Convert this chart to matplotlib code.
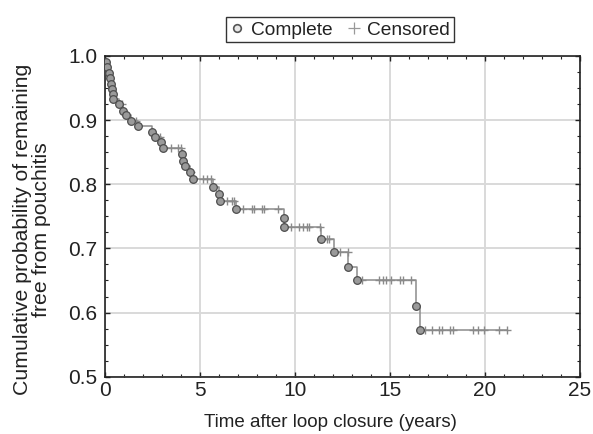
import numpy as np
import matplotlib
matplotlib.use("Agg")
import matplotlib.pyplot as plt
from matplotlib.lines import Line2D

plt.rcParams['font.family'] = ['Liberation Sans', 'DejaVu Sans']

# Event (complete) times in years and survival after each event
event_times = [0.07, 0.14, 0.24, 0.29, 0.35, 0.38, 0.44, 0.45, 0.77, 0.98,
               1.14, 1.37, 1.75, 2.51, 2.62, 2.97, 3.06, 4.08, 4.14, 4.24,
               4.49, 4.66, 5.72, 6.03, 6.08, 6.91, 9.42, 9.45, 11.40, 12.07,
               12.82, 13.26, 16.38, 16.60]
event_surv = [0.991, 0.983, 0.974, 0.966, 0.957, 0.949, 0.941, 0.933, 0.925, 0.915,
              0.908, 0.898, 0.891, 0.882, 0.873, 0.866, 0.856, 0.847, 0.837, 0.829,
              0.819, 0.808, 0.796, 0.785, 0.774, 0.762, 0.747, 0.733, 0.715, 0.694,
              0.671, 0.650, 0.611, 0.573]
# Censored times in years
censor_times = [0.89, 1.65, 2.91, 3.50, 3.86, 4.00, 4.30, 4.55, 5.19, 5.40,
                5.60, 6.42, 6.72, 6.81, 7.29, 7.74, 7.86, 8.29, 8.40, 9.10,
                9.79, 10.24, 10.42, 10.63, 10.72, 11.33, 11.68, 11.82, 12.40, 12.78,
                13.53, 14.45, 14.66, 14.79, 15.05, 15.54, 15.68, 16.12, 16.86, 17.21,
                17.61, 17.74, 18.17, 18.32, 19.37, 19.66, 19.96, 20.75, 21.15]

x_ticks = [0, 5, 10, 15, 20, 25]
y_ticks = [0.5, 0.6, 0.7, 0.8, 0.9, 1.0]

fig = plt.figure(figsize=(5.93, 4.34), dpi=100)
ax = fig.add_axes([0.1766, 0.132, 0.8014, 0.739])

et = np.array(event_times)
es = np.array(event_surv)
ct = np.array(censor_times)
end_t = max(ct.max(), et.max())

step_x = np.concatenate([[0.0], et, [end_t]])
step_y = np.concatenate([[1.0], es, [es[-1]]])
ax.step(step_x, step_y, where='post', color='#8c8c8c', lw=1.1, zorder=2)

surv_levels = np.concatenate([[1.0], es])
cy = surv_levels[np.searchsorted(et, ct, side='right')]
ax.plot(ct, cy, linestyle='none', marker='+', ms=6, mew=1.0,
        color='#8a8a8a', zorder=3)
ax.plot(et, es, linestyle='none', marker='o', ms=5.5, mfc='#9a9a9a',
        mec='#4d4d4d', mew=0.9, zorder=4)

ax.set_xlim(0, 25)
ax.set_ylim(0.5, 1.0)
ax.set_xticks(x_ticks)
ax.set_yticks(y_ticks)
ax.set_xticklabels([str(v) for v in x_ticks])
ax.set_yticklabels([f"{v:.1f}" for v in y_ticks])
ax.set_xticks(np.arange(0, 26, 1), minor=True)
ax.set_yticks(np.arange(0.5, 1.0001, 0.025), minor=True)
ax.tick_params(which='both', direction='in', top=True, right=True,
               color='#222222', labelsize=15, labelcolor='#222222')
ax.tick_params(which='major', length=3.5, width=1.0)
ax.tick_params(which='minor', length=2.2, width=0.8)
ax.tick_params(axis='x', which='major', pad=3)
ax.tick_params(axis='y', which='major', pad=5.5)
ax.grid(True, which='major', color='#d9d9d9', lw=1.4, zorder=0)
ax.set_axisbelow(True)
for s in ax.spines.values():
    s.set_color('#222222')
    s.set_linewidth(1.2)

ax.set_xlabel('Time after loop closure (years)', fontsize=13.5,
              color='#222222')
ax.xaxis.set_label_coords(0.474, -0.116)
ax.set_ylabel('Cumulative probability of remaining\nfree from pouchitis',
              fontsize=15.3, linespacing=1.0, color='#222222')
ax.yaxis.set_label_coords(-0.114, 0.46)

handles = [
    Line2D([], [], linestyle='none', marker='o', ms=5.5, mfc='#e8e8e8',
           mec='#555555', mew=1.2),
    Line2D([], [], linestyle='none', marker='+', ms=8, mew=0.9, color='#999999'),
]
leg = fig.legend(handles, ['Complete', 'Censored'], loc='center',
                 bbox_to_anchor=(0.573, 0.931), ncol=2, frameon=True,
                 fancybox=False, edgecolor='black', fontsize=13.8,
                 handlelength=0.8, handletextpad=0.3, columnspacing=0.7,
                 borderpad=0.2, borderaxespad=0)
leg.get_frame().set_linewidth(1.0)
for t in leg.get_texts():
    t.set_color('#222222')

fig.savefig('out.png', dpi=100)
